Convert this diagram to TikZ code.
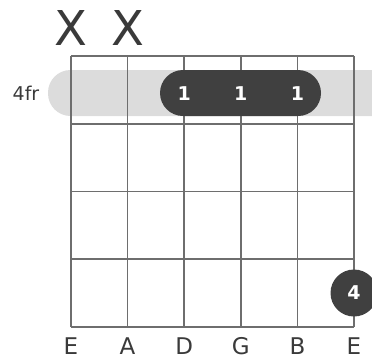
\documentclass[tikz,border=0pt]{standalone}
\usepackage{fontspec}
\setmainfont{DejaVu Sans}
\begin{document}
\begin{tikzpicture}[x=1pt,y=-1pt,
  gridline/.style={draw=gridgray,line width=1.6pt},
  band/.style={fill=bandgray,rounded corners=22.5pt},
  barre/.style={fill=darkdot,rounded corners=23pt},
  finger/.style={text=white,font=\bfseries\fontsize{19}{19}\selectfont,inner sep=0pt},
  dot/.style={circle,fill=darkdot,minimum size=47pt,inner sep=0pt,text=white,font=\bfseries\fontsize{19}{19}\selectfont},
  strname/.style={text=textgray,font=\fontsize{23}{23}\selectfont,inner sep=0pt},
  mute/.style={text=textgray,font=\fontsize{48}{48}\selectfont,inner sep=0pt},
  frlabel/.style={text=textgray,font=\fontsize{19}{19}\selectfont,inner sep=0pt}]
\definecolor{gridgray}{HTML}{6E6E6E}
\definecolor{bandgray}{HTML}{DCDCDC}
\definecolor{darkdot}{HTML}{404040}
\definecolor{textgray}{HTML}{3A3A3A}
\useasboundingbox (0,0) rectangle (372,360);
% barre background band
\fill[band] (48,70) rectangle (396,116);
% grid
\foreach \x in {71,127.6,184.2,240.8,297.4,354}
  \draw[gridline] (\x,56) -- (\x,327);
\foreach \y in {56,123.75,191.5,259.25,327}
  \draw[gridline] (71,\y) -- (354,\y);
% barre
\fill[barre] (160,70) rectangle (321,116);
\node[finger] (f1) at (184.2,93.5) {1};
\node[finger] (f2) at (240.8,93.5) {1};
\node[finger] (f3) at (297.4,93.5) {1};
\node[dot] (d4) at (354,293) {4};
% labels
\node[frlabel] (fr) at (26,93) {4fr};
\node[mute] (m1) at (71,28) {X};
\node[mute] (m2) at (127.6,28) {X};
\foreach \x/\n/\t in {71/s1/E,127.6/s2/A,184.2/s3/D,240.8/s4/G,297.4/s5/B,354/s6/E}
  \node[strname] (\n) at (\x,346) {\t};
\end{tikzpicture}
\end{document}
